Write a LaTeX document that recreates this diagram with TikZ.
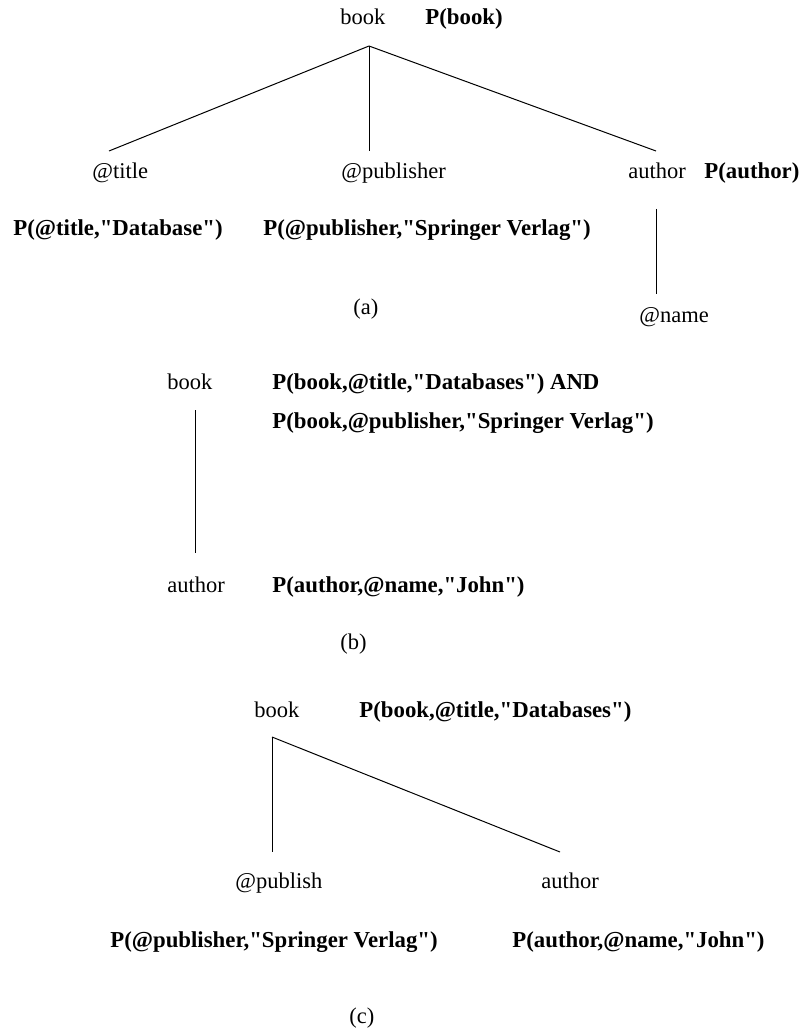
\documentclass[tikz,border=0pt]{standalone}
\usepackage{fontspec}
\setmainfont{Liberation Serif}[Ligatures=TeXOff]
\begin{document}
\begin{tikzpicture}[x=0.5pt,y=-0.5pt,
    lbl/.style={anchor=west,inner sep=0pt,text height=8pt,text depth=2.5pt,
        font=\fontsize{11.25}{13}\selectfont},
    pred/.style={lbl,font=\fontsize{11.4}{13}\selectfont\bfseries},
    edge/.style={line width=0.5pt}]
    \useasboundingbox (0,0) rectangle (803,1032);

    % (a) labels
    \node[lbl]  (abook)   at (340,19)  {book};
    \node[pred] (apbook)  at (425,19)  {P(book)};
    \node[lbl]  (atitle)  at (92,173)  {@title};
    \node[lbl]  (apub)    at (341,173) {@publisher};
    \node[lbl]  (aauthor) at (628,173) {author};
    \node[pred] (apauth)  at (704,173) {P(author)};
    \node[pred] (aptitle) at (13,230)  {P(@title,"Database")};
    \node[pred] (appub)   at (263,230) {P(@publisher,"Springer Verlag")};
    \node[lbl]  (aname)   at (639,317) {@name};
    \node[lbl]  (acap)    at (353,309) {(a)};

    % (a) edges
    \coordinate (aroot) at (369,46);
    \coordinate (aleft) at (109,151);
    \coordinate (amid)  at (369,151);
    \coordinate (aright) at (656,151);
    \coordinate (aauthtop) at (656,209);
    \coordinate (anametop) at (656,294);
    \draw[edge] (aroot) -- (aleft);
    \draw[edge] (aroot) -- (amid);
    \draw[edge] (aroot) -- (aright);
    \draw[edge] (aauthtop) -- (anametop);

    % (b) labels
    \node[lbl]  (bbook)   at (167,384) {book};
    \node[pred] (bpbook)  at (272,384) {P(book,@title,"Databases") AND};
    \node[pred] (bpbook2) at (272,423) {P(book,@publisher,"Springer Verlag")};
    \node[lbl]  (bauthor) at (167,587) {author};
    \node[pred] (bpauth)  at (272,587) {P(author,@name,"John")};
    \node[lbl]  (bcap)    at (340,644) {(b)};

    % (b) edge
    \coordinate (broot) at (195,410);
    \coordinate (bauthtop) at (195,553);
    \draw[edge] (broot) -- (bauthtop);

    % (c) labels
    \node[lbl]  (cbook)   at (254,712) {book};
    \node[pred] (cpbook)  at (359,712) {P(book,@title,"Databases")};
    \node[lbl]  (cpub)    at (235,883) {@publish};
    \node[lbl]  (cauthor) at (541,883) {author};
    \node[pred] (cppub)   at (110,942) {P(@publisher,"Springer Verlag")};
    \node[pred] (cpauth)  at (512,942) {P(author,@name,"John")};
    \node[lbl]  (ccap)    at (349,1018) {(c)};

    % (c) edges
    \coordinate (croot) at (272,737);
    \coordinate (cleft) at (272,852);
    \coordinate (cright) at (560,852);
    \draw[edge] (croot) -- (cleft);
    \draw[edge] (croot) -- (cright);
\end{tikzpicture}
\end{document}
